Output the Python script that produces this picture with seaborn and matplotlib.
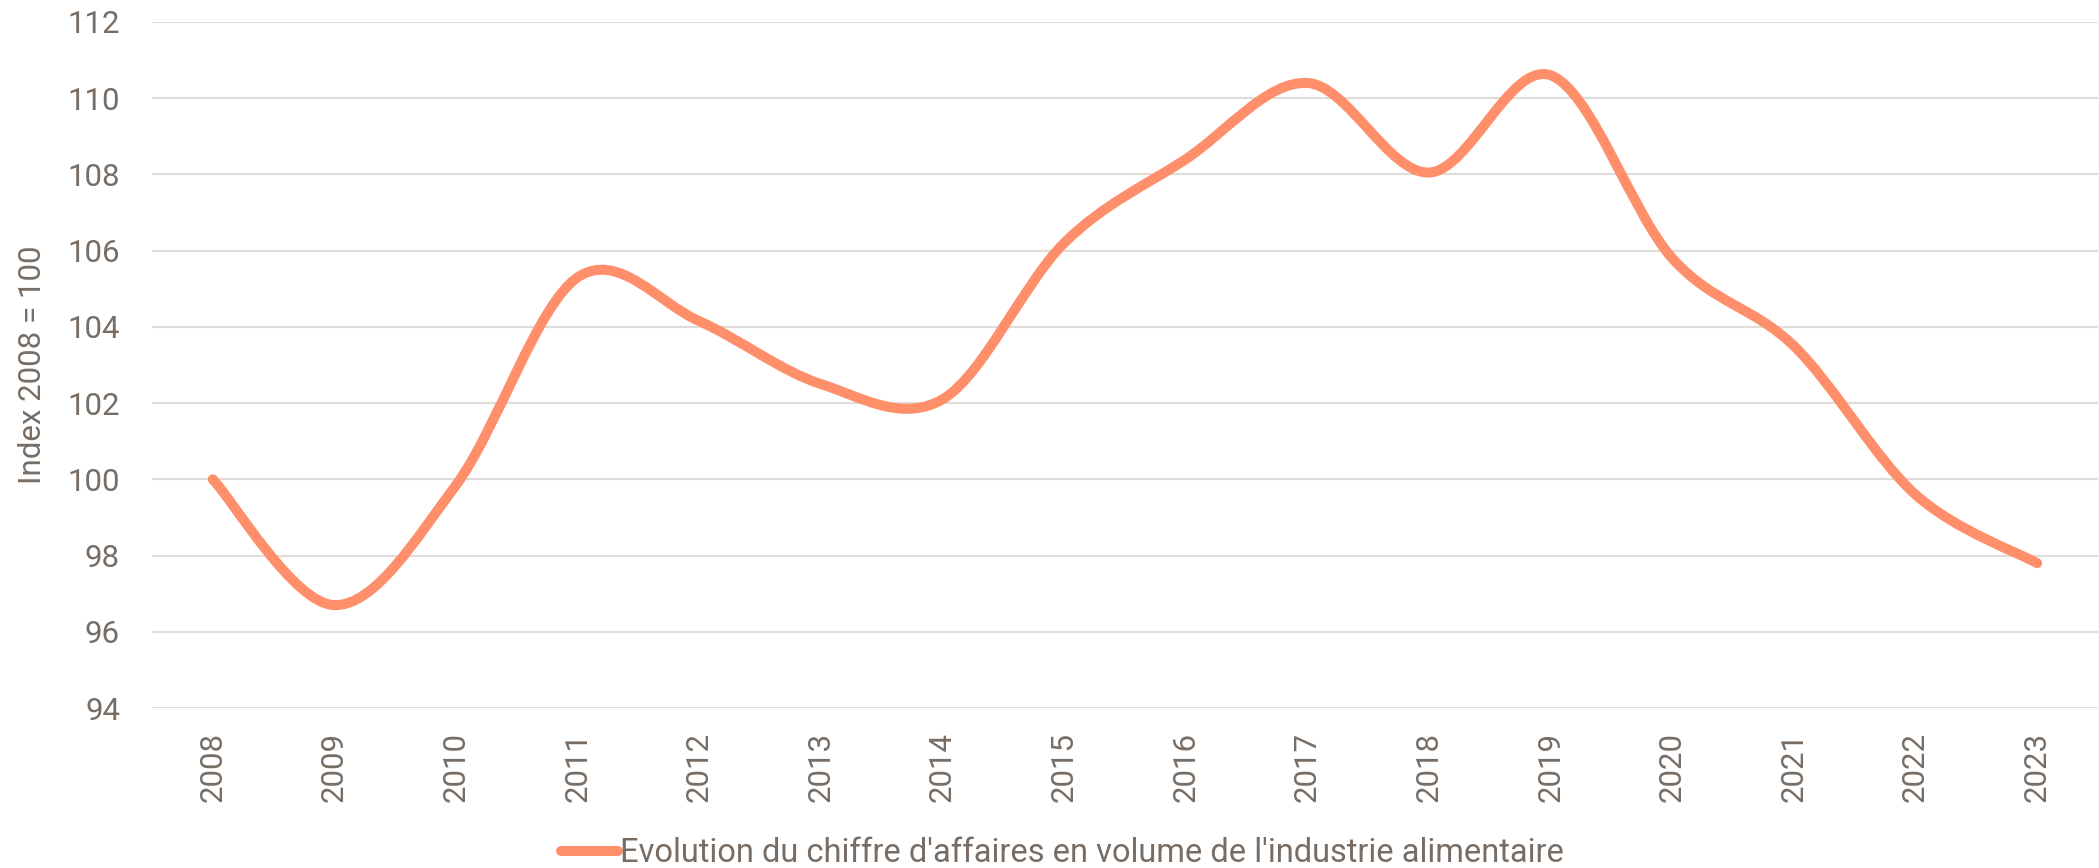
import numpy as np
import seaborn as sns
import matplotlib
matplotlib.use("Agg")
import matplotlib.pyplot as plt
from matplotlib.path import Path
from matplotlib.patches import PathPatch
from matplotlib.lines import Line2D

years = ["2008", "2009", "2010", "2011", "2012", "2013", "2014", "2015",
         "2016", "2017", "2018", "2019", "2020", "2021", "2022", "2023"]
index_values = [100.0, 96.7, 99.85, 105.3, 104.15, 102.5, 102.1, 106.2,
                108.4, 110.4, 108.05, 110.6, 105.8, 103.5, 99.6, 97.8]
y_ticks = [94, 96, 98, 100, 102, 104, 106, 108, 110, 112]
series_label = "Evolution du chiffre d'affaires en volume de l'industrie alimentaire"

line_color = "#ff8f6b"
text_color = "#776d65"
grid_color = "#e0dcd8"


def smooth_path(xs, ys):
    # excel-like smoothed line: cubic bezier with catmull-rom control points
    pts = np.column_stack([xs, ys]).astype(float)
    n = len(pts)
    verts = [pts[0]]
    codes = [Path.MOVETO]
    for i in range(n - 1):
        p0 = pts[max(i - 1, 0)]
        p1 = pts[i]
        p2 = pts[i + 1]
        p3 = pts[min(i + 2, n - 1)]
        c1 = p1 + (p2 - p0) / 6.0
        c2 = p2 - (p3 - p1) / 6.0
        verts += [c1, c2, p2]
        codes += [Path.CURVE4] * 3
    return Path(verts, codes)


sns.set_theme(style="white")
plt.rcParams["font.family"] = ["Roboto", "DejaVu Sans"]

fig = plt.figure(figsize=(20.99, 8.68), dpi=100)
ax = fig.add_axes([0.0724, 0.1843, 0.9271, 0.7904])

x_pos = np.arange(len(years))
patch = PathPatch(smooth_path(x_pos, index_values), facecolor="none",
                  edgecolor=line_color, lw=7.2, capstyle="round",
                  joinstyle="round", zorder=3)
ax.add_patch(patch)

ax.set_xlim(-0.5, len(years) - 0.5)
ax.set_ylim(94, 112)
ax.set_yticks(y_ticks)
ax.set_yticklabels([str(t) for t in y_ticks])
ax.set_xticks(x_pos)
ax.set_xticklabels(years, rotation=90)
ax.yaxis.grid(True, color=grid_color, lw=1.5)
ax.xaxis.grid(False)
ax.set_axisbelow(True)
sns.despine(ax=ax, left=True, bottom=True)

ax.tick_params(axis="y", length=0, pad=23, labelsize=22.5, labelcolor=text_color)
ax.tick_params(axis="x", length=0, pad=17, labelsize=22.5, labelcolor=text_color)
ax.set_ylabel("Index 2008 = 100", fontsize=22.5, color=text_color, labelpad=15)

handle = Line2D([], [], color=line_color, lw=7.2, solid_capstyle="round")
fig.legend([handle], [series_label], loc="center", bbox_to_anchor=(0.506, 0.017),
           frameon=False, fontsize=23.5, labelcolor=text_color,
           handlelength=1.75, handletextpad=0.05, borderpad=0)

fig.savefig("out.png", dpi=100)
